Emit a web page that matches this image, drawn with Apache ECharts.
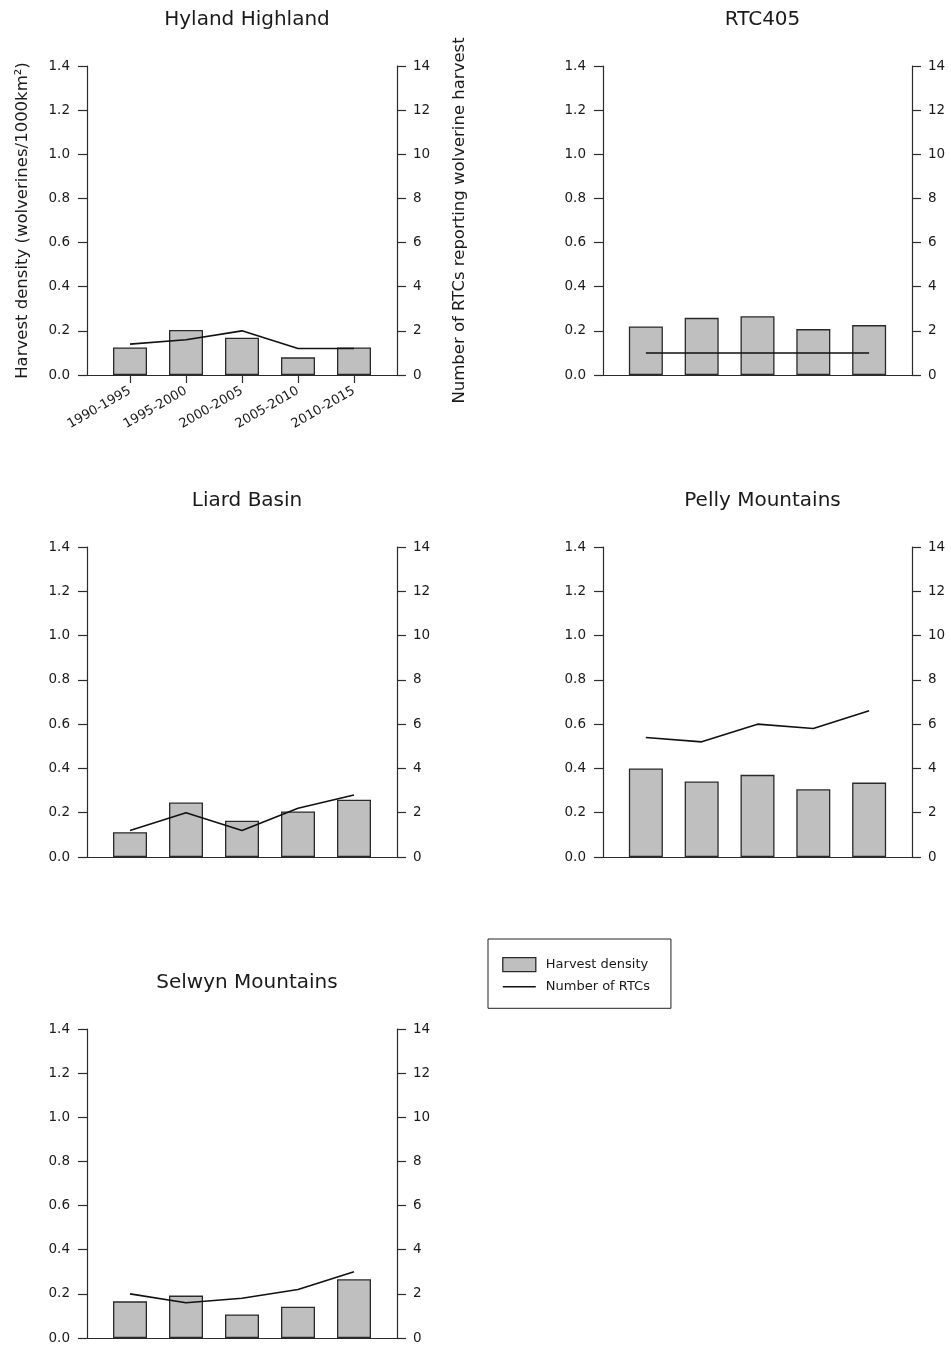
<!DOCTYPE html>
<html>
<head>
<meta charset="utf-8">
<script src="https://cdn.jsdelivr.net/npm/echarts@6/dist/echarts.min.js"></script>
<style>
html,body{margin:0;padding:0;background:#fff;}
#chart{width:951px;height:1347px;}
</style>
</head>
<body>
<div id="chart"></div>
<script>
// ---- data ----
const categories = ['1990-1995', '1995-2000', '2000-2005', '2005-2010', '2010-2015'];
const regions = ['Hyland Highland', 'RTC405', 'Liard Basin', 'Pelly Mountains', 'Selwyn Mountains'];

const hylandDensity  = [0.125, 0.204, 0.169, 0.080, 0.125];
const hylandRTCs     = [1.4, 1.6, 2.0, 1.2, 1.2];
const rtc405Density  = [0.220, 0.259, 0.266, 0.208, 0.226];
const rtc405RTCs     = [1, 1, 1, 1, 1];
const liardDensity   = [0.112, 0.246, 0.164, 0.206, 0.259];
const liardRTCs      = [1.2, 2.0, 1.2, 2.2, 2.8];
const pellyDensity   = [0.400, 0.341, 0.371, 0.306, 0.336];
const pellyRTCs      = [5.4, 5.2, 6.0, 5.8, 6.6];
const selwynDensity  = [0.166, 0.192, 0.107, 0.142, 0.266];
const selwynRTCs     = [2.0, 1.6, 1.8, 2.2, 3.0];

const densityTicks = [0, 0.2, 0.4, 0.6, 0.8, 1.0, 1.2, 1.4];
const rtcTicks = [0, 2, 4, 6, 8, 10, 12, 14];

const leftName = 'Harvest density (wolverines/1000km²)';
const rightName = 'Number of RTCs reporting wolverine harvest';
const legendNames = ['Harvest density', 'Number of RTCs'];

const densities = [hylandDensity, rtc405Density, liardDensity, pellyDensity, selwynDensity];
const rtcs = [hylandRTCs, rtc405RTCs, liardRTCs, pellyRTCs, selwynRTCs];

// ---- layout ----
const layout = [
  {left: 87,  top: 66,   width: 310, height: 309, titleTop: 5},
  {left: 603, top: 66,   width: 309, height: 309, titleTop: 5},
  {left: 87,  top: 547,  width: 310, height: 310, titleTop: 486},
  {left: 603, top: 547,  width: 309, height: 310, titleTop: 486},
  {left: 87,  top: 1029, width: 310, height: 309, titleTop: 968}
];

const FONT = 'DejaVu Sans';
const TXT = '#1a1a1a';
const AX = '#2b2b2b';

const grid = [], xAxis = [], yAxis = [], series = [], title = [];

layout.forEach((L, i) => {
  grid.push({left: L.left, top: L.top, width: L.width, height: L.height, containLabel: false});
  const first = i === 0;
  title.push({
    text: regions[i],
    left: L.left + L.width / 2,
    top: L.titleTop,
    textAlign: 'center',
    textStyle: {fontFamily: FONT, fontSize: 20, fontWeight: 'normal', color: TXT}
  });
  xAxis.push({
    type: 'value', gridIndex: i,
    min: -0.768, max: 4.768,
    splitLine: {show: false},
    axisLine: {show: true, onZero: false, lineStyle: {color: AX, width: 1.2}},
    axisTick: {show: first, customValues: [0, 1, 2, 3, 4], length: 8, lineStyle: {color: AX, width: 1.2}},
    axisLabel: {
      show: first, customValues: [0, 1, 2, 3, 4], rotate: 30, margin: 15,
      formatter: v => categories[Math.round(v)] || '',
      fontFamily: FONT, fontSize: 13, color: TXT
    }
  });
  yAxis.push({
    type: 'value', gridIndex: i, position: 'left',
    min: 0, max: 1.4, interval: 0.2,
    name: first ? leftName : '',
    nameLocation: 'middle', nameGap: 56, nameRotate: 90,
    nameTextStyle: {fontFamily: FONT, fontSize: 16.5, color: TXT},
    splitLine: {show: false},
    axisLine: {show: true, onZero: false, lineStyle: {color: AX, width: 1.2}},
    axisTick: {show: true, length: 9, lineStyle: {color: AX, width: 1.2}},
    axisLabel: {margin: 17, formatter: v => v.toFixed(1), fontFamily: FONT, fontSize: 13.5, color: TXT}
  });
  yAxis.push({
    type: 'value', gridIndex: i, position: 'right',
    min: 0, max: 14, interval: 2,
    name: first ? rightName : '',
    nameLocation: 'middle', nameGap: 54, nameRotate: 90,
    nameTextStyle: {fontFamily: FONT, fontSize: 16.5, color: TXT},
    splitLine: {show: false},
    axisLine: {show: true, onZero: false, lineStyle: {color: AX, width: 1.2}},
    axisTick: {show: true, length: 9, lineStyle: {color: AX, width: 1.2}},
    axisLabel: {margin: 16, fontFamily: FONT, fontSize: 13.5, color: TXT}
  });
  series.push({
    name: legendNames[0], type: 'bar',
    xAxisIndex: i, yAxisIndex: 2 * i,
    barWidth: 34,
    data: densities[i].map((v, k) => [k, v]),
    itemStyle: {color: '#bfbfbf', borderColor: '#2a2a2a', borderWidth: 1.3},
    emphasis: {disabled: true},
    z: 2
  });
  series.push({
    name: legendNames[1], type: 'line',
    xAxisIndex: i, yAxisIndex: 2 * i + 1,
    data: rtcs[i].map((v, k) => [k, v]),
    symbol: 'none',
    lineStyle: {color: '#111', width: 1.6},
    itemStyle: {color: '#111'},
    emphasis: {disabled: true},
    z: 3
  });
});

const chart = echarts.init(document.getElementById('chart'), null, {renderer: 'canvas'});
chart.setOption({
  animation: false,
  backgroundColor: '#fff',
  title: title,
  grid: grid,
  xAxis: xAxis,
  yAxis: yAxis,
  series: series,
  legend: {
    orient: 'vertical',
    left: 488, top: 939,
    padding: [18, 21, 15, 14],
    itemGap: 8,
    itemWidth: 33, itemHeight: 14,
    borderColor: '#222', borderWidth: 1,
    selectedMode: false,
    textStyle: {fontFamily: FONT, fontSize: 13, color: TXT, padding: [0, 0, 0, 5]},
    data: [
      {name: legendNames[0], icon: 'rect', itemStyle: {color: '#bfbfbf', borderColor: '#2a2a2a', borderWidth: 1.3}},
      {name: legendNames[1], itemStyle: {color: 'rgba(0,0,0,0)', borderColor: 'rgba(0,0,0,0)', borderWidth: 0}, lineStyle: {color: '#111', width: 1.6}}
    ]
  }
});
</script>
</body>
</html>
